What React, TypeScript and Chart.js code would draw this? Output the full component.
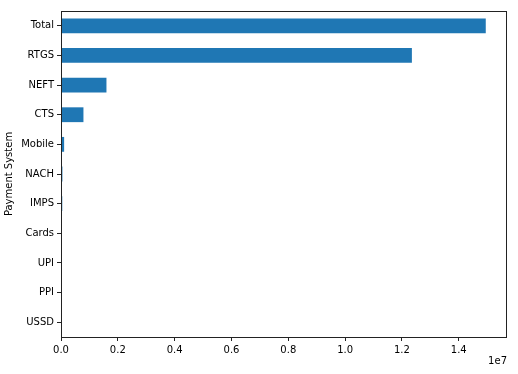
import React, { useEffect, useRef } from "react";
import { Chart, registerables } from "chart.js";

Chart.register(...registerables);

const categories = ["Total", "RTGS", "NEFT", "CTS", "Mobile", "NACH", "IMPS", "Cards", "UPI", "PPI", "USSD"];
const values = [14950000, 12350000, 1600000, 790000, 110000, 50000, 45000, 12000, 2000, 1000, 10];
const xTickValues = [0, 2000000, 4000000, 6000000, 8000000, 10000000, 12000000, 14000000];
const xScaleExponent = 1e7;
const yAxisTitle = "Payment System";
const offsetLabel = "1e7";

const FONT = "'DejaVu Sans', sans-serif";

export default function App() {
  const ref = useRef<HTMLCanvasElement | null>(null);

  useEffect(() => {
    document.body.style.margin = "0";
    const canvas = ref.current!;
    const maxVal = Math.max(...values) * 1.05;

    const framePlugin = {
      id: "frame",
      afterDatasetsDraw(chart: any) {
        const { ctx, chartArea } = chart;
        ctx.save();
        ctx.strokeStyle = "#222";
        ctx.lineWidth = 1;
        ctx.strokeRect(
          Math.round(chartArea.left) + 0.5,
          Math.round(chartArea.top) + 0.5,
          Math.round(chartArea.right - chartArea.left) - 1,
          Math.round(chartArea.bottom - chartArea.top)
        );
        ctx.fillStyle = "#000";
        ctx.font = `10px ${FONT}`;
        ctx.textAlign = "right";
        ctx.textBaseline = "middle";
        ctx.fillText(offsetLabel, chartArea.right, 361);
        ctx.restore();
      },
    };

    const chart = new Chart(canvas, {
      type: "bar",
      data: {
        labels: categories,
        datasets: [
          {
            data: values,
            backgroundColor: "#1f77b4",
            borderWidth: 0,
            categoryPercentage: 1,
            barPercentage: 0.5,
          },
        ],
      },
      options: {
        indexAxis: "y",
        animation: false,
        responsive: false,
        maintainAspectRatio: false,
        layout: { padding: { top: 11, right: 11, left: 0, bottom: 0 } },
        plugins: { legend: { display: false }, tooltip: { enabled: false } },
        scales: {
          x: {
            type: "linear",
            min: 0,
            max: maxVal,
            bounds: "data",
            grid: {
              drawOnChartArea: false,
              drawTicks: true,
              tickLength: 4,
              tickColor: "#222",
            },
            border: { display: false },
            ticks: {
              color: "#000",
              padding: 3,
              maxRotation: 0,
              autoSkip: false,
              font: { family: FONT, size: 10 },
              callback: (v: any) => (Number(v) / xScaleExponent).toFixed(1),
            },
            afterBuildTicks: (scale: any) => {
              scale.ticks = xTickValues.map((v) => ({ value: v }));
            },
            afterFit: (scale: any) => {
              scale.height = 37;
            },
          },
          y: {
            type: "category",
            grid: {
              offset: false,
              drawOnChartArea: false,
              drawTicks: true,
              tickLength: 4,
              tickColor: "#222",
            },
            border: { display: false },
            ticks: {
              color: "#000",
              padding: 3,
              font: { family: FONT, size: 10 },
            },
            title: {
              display: true,
              text: yAxisTitle,
              color: "#000",
              font: { family: FONT, size: 10 },
              padding: { top: 3, bottom: 0 },
            },
            afterFit: (scale: any) => {
              scale.width = 61;
            },
          },
        },
      },
      plugins: [framePlugin],
    });
    return () => chart.destroy();
  }, []);

  return <canvas ref={ref} width={518} height={374} style={{ display: "block" }} />;
}
